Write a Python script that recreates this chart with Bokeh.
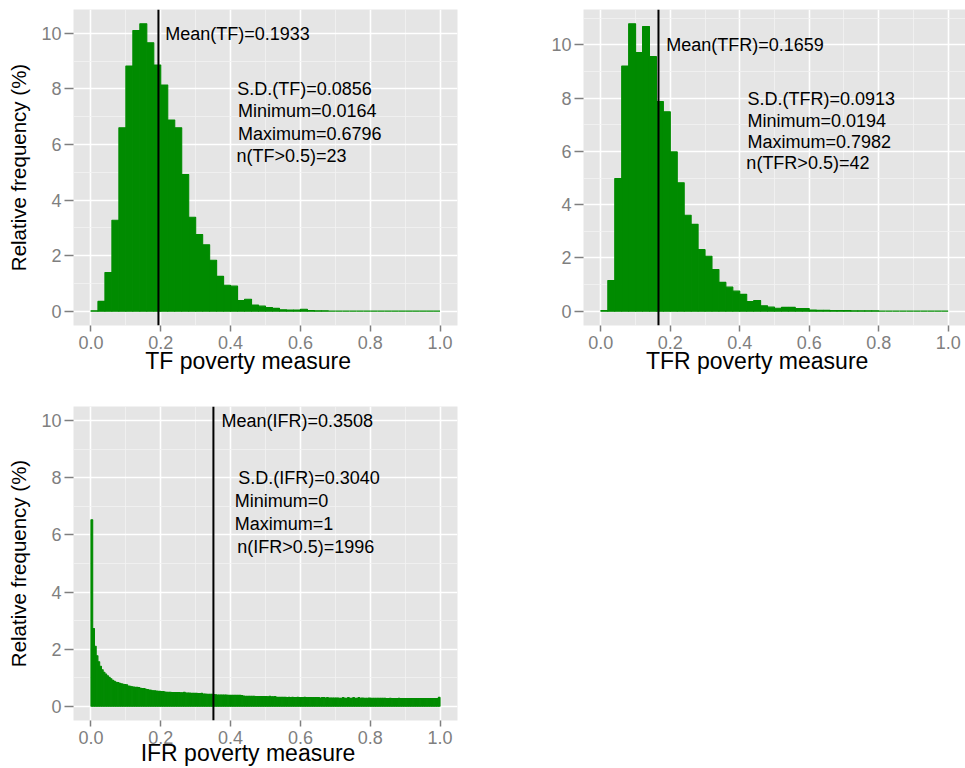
from bokeh.plotting import figure
from bokeh.models import (Range1d, FixedTicker, Span, NumeralTickFormatter,
                          ColumnDataSource, LinearAxis)
from bokeh.layouts import column, row
from bokeh.core.properties import value
from bokeh.embed import file_html
from bokeh.resources import INLINE
import numpy as np

# ---------------------------------------------------------------- data
# Relative frequency (%) per bin; TF and TFR use 50 bins of width 0.02 on [0, 1]
tf_pct = [
    0.01, 0.35, 1.39, 3.27, 6.60, 8.82, 10.10, 10.34, 9.66, 8.86,
    8.14, 6.88, 6.60, 4.92, 3.38, 2.76, 2.39, 1.83, 1.25, 0.93,
    0.90, 0.38, 0.43, 0.22, 0.18, 0.13, 0.10, 0.05, 0.04, 0.04,
    0.07, 0.02, 0.01, 0.01, 0.00, 0.00, 0.00, 0.00, 0.00, 0.00,
    0.00, 0.00, 0.00, 0.00, 0.00, 0.00, 0.00, 0.00, 0.00, 0.00,
]
tfr_pct = [
    0.02, 1.15, 4.98, 9.21, 10.79, 9.71, 10.69, 9.56, 7.87, 7.49,
    5.98, 4.82, 3.60, 3.26, 2.31, 2.06, 1.56, 1.08, 0.90, 0.75,
    0.63, 0.36, 0.40, 0.20, 0.15, 0.11, 0.14, 0.14, 0.10, 0.10,
    0.04, 0.03, 0.03, 0.02, 0.02, 0.02, 0.01, 0.01, 0.01, 0.01,
    0.00, 0.00, 0.00, 0.00, 0.00, 0.00, 0.00, 0.00, 0.00, 0.00,
]
# IFR uses 200 bins of width 0.005 on [0, 1]
ifr_pct = [
    6.53, 2.72, 2.10, 1.77, 1.56, 1.40, 1.28, 1.19, 1.13, 1.07,
    1.01, 0.96, 0.91, 0.87, 0.84, 0.83, 0.80, 0.79, 0.77, 0.76,
    0.75, 0.71, 0.70, 0.68, 0.67, 0.66, 0.66, 0.65, 0.63, 0.62,
    0.62, 0.59, 0.58, 0.57, 0.56, 0.54, 0.54, 0.53, 0.52, 0.52,
    0.51, 0.51, 0.50, 0.49, 0.49, 0.49, 0.48, 0.48, 0.48, 0.48,
    0.48, 0.47, 0.47, 0.49, 0.46, 0.46, 0.46, 0.45, 0.45, 0.45,
    0.45, 0.44, 0.44, 0.45, 0.43, 0.43, 0.42, 0.42, 0.42, 0.42,
    0.41, 0.40, 0.39, 0.39, 0.39, 0.39, 0.39, 0.39, 0.38, 0.38,
    0.38, 0.38, 0.38, 0.38, 0.38, 0.38, 0.37, 0.36, 0.35, 0.35,
    0.35, 0.35, 0.35, 0.35, 0.34, 0.34, 0.34, 0.34, 0.34, 0.34,
    0.34, 0.33, 0.35, 0.33, 0.33, 0.34, 0.31, 0.31, 0.31, 0.31,
    0.31, 0.31, 0.30, 0.31, 0.30, 0.31, 0.30, 0.30, 0.31, 0.30,
    0.30, 0.30, 0.31, 0.30, 0.30, 0.30, 0.30, 0.30, 0.30, 0.30,
    0.30, 0.29, 0.30, 0.30, 0.29, 0.30, 0.29, 0.29, 0.29, 0.29,
    0.29, 0.29, 0.28, 0.28, 0.30, 0.28, 0.28, 0.30, 0.28, 0.28,
    0.30, 0.28, 0.28, 0.30, 0.28, 0.29, 0.28, 0.28, 0.28, 0.29,
    0.28, 0.28, 0.28, 0.28, 0.28, 0.28, 0.28, 0.28, 0.28, 0.27,
    0.27, 0.28, 0.27, 0.27, 0.27, 0.27, 0.28, 0.27, 0.27, 0.27,
    0.27, 0.27, 0.27, 0.27, 0.27, 0.27, 0.27, 0.27, 0.27, 0.27,
    0.27, 0.27, 0.27, 0.27, 0.27, 0.27, 0.27, 0.27, 0.27, 0.31,
]

tf_mean, tfr_mean, ifr_mean = 0.1933, 0.1659, 0.3508

tf_notes = ["Mean(TF)=0.1933", "S.D.(TF)=0.0856", "Minimum=0.0164",
            "Maximum=0.6796", "n(TF>0.5)=23"]
tfr_notes = ["Mean(TFR)=0.1659", "S.D.(TFR)=0.0913", "Minimum=0.0194",
             "Maximum=0.7982", "n(TFR>0.5)=42"]
ifr_notes = ["Mean(IFR)=0.3508", "S.D.(IFR)=0.3040", "Minimum=0",
             "Maximum=1", "n(IFR>0.5)=1996"]

x_ticks = [0.0, 0.2, 0.4, 0.6, 0.8, 1.0]
x_minor = [0.1, 0.3, 0.5, 0.7, 0.9]
y_ticks = [0, 2, 4, 6, 8, 10]
y_minor = [1, 3, 5, 7, 9, 11]

# ---------------------------------------------------------------- style
FONT = "Liberation Sans"
BAR = "#008B00"
PANEL_BG = "#E5E5E5"
TICK_GREY = "#7F7F7F"
TITLE_AT = 0.45   # x position the axis title is centred on


def histogram_panel(pct, mean, notes, note_pos, xtitle, ytitle,
                    y_fixed, width, height, borders, title_standoff):
    n = len(pct)
    edges = np.linspace(0.0, 1.0, n + 1)
    if y_fixed is None:
        top = max(pct)
        y_lo, y_hi = -0.05 * top, 1.05 * top
    else:
        y_lo, y_hi = y_fixed

    bl, br, bt, bb = borders
    p = figure(width=width, height=height, output_backend="svg",
               toolbar_location=None, x_range=Range1d(-0.05, 1.05),
               y_range=Range1d(y_lo, y_hi),
               min_border_left=bl, min_border_right=br,
               min_border_top=bt, min_border_bottom=bb)
    p.background_fill_color = PANEL_BG
    p.border_fill_color = "white"
    p.outline_line_color = None

    xt = FixedTicker(ticks=x_ticks, minor_ticks=x_minor)
    yt = FixedTicker(ticks=y_ticks, minor_ticks=y_minor)
    p.xaxis.ticker = xt
    p.yaxis.ticker = yt
    p.xgrid.ticker = xt
    p.ygrid.ticker = yt
    p.xaxis.formatter = NumeralTickFormatter(format="0.0")

    for g in (p.xgrid, p.ygrid):
        g.grid_line_color = "white"
        g.grid_line_width = 1.6
        g.minor_grid_line_color = "#F2F2F2"
        g.minor_grid_line_width = 0.8

    for ax in (p.xaxis, p.yaxis):
        ax.axis_line_color = None
        ax.minor_tick_line_color = None
        ax.major_tick_line_color = TICK_GREY
        ax.major_tick_line_width = 1.5
        ax.major_tick_in = 0
        ax.major_label_text_font = FONT
        ax.major_label_text_font_size = "18px"
        ax.major_label_text_color = TICK_GREY
    p.xaxis.major_tick_out = 6
    p.xaxis.major_label_standoff = 4
    p.yaxis.major_tick_out = 9
    p.yaxis.major_label_standoff = 3

    if ytitle:
        p.yaxis.axis_label = ytitle
        p.yaxis.axis_label_text_font = FONT
        p.yaxis.axis_label_text_font_size = "20.5px"
        p.yaxis.axis_label_text_font_style = "normal"
        p.yaxis.axis_label_text_color = "black"
        p.yaxis.axis_label_standoff = 8

    # x title: a tick-free axis whose single label is the title
    title_axis = LinearAxis(ticker=FixedTicker(ticks=[TITLE_AT]),
                            major_label_overrides={TITLE_AT: xtitle})
    title_axis.axis_line_color = None
    title_axis.major_tick_line_color = None
    title_axis.minor_tick_line_color = None
    title_axis.major_tick_out = 0
    title_axis.major_label_standoff = title_standoff
    title_axis.major_label_text_font = FONT
    title_axis.major_label_text_font_size = "23px"
    title_axis.major_label_text_color = "black"
    p.add_layout(title_axis, "below")

    # histogram bars
    src = ColumnDataSource(dict(left=edges[:-1], right=edges[1:],
                                top=pct, bottom=[0.0] * n))
    p.quad(left="left", right="right", top="top", bottom="bottom",
           source=src, fill_color=BAR, line_color=BAR, line_width=1.1)

    # mean line
    p.add_layout(Span(location=mean, dimension="height",
                      line_color="black", line_width=2))

    # summary statistics
    nx, ny = zip(*note_pos)
    nsrc = ColumnDataSource(dict(x=list(nx), y=list(ny), text=notes))
    p.text(x="x", y="y", text="text", source=nsrc,
           text_font=value(FONT), text_font_size=value("18px"),
           text_align="left", text_baseline="middle", text_color="black")
    return p


p_tf = histogram_panel(
    tf_pct, tf_mean, tf_notes,
    [(0.213, 9.98), (0.419, 8.0), (0.421, 7.2), (0.421, 6.39), (0.417, 5.6)],
    "TF poverty measure", "Relative frequency (%)",
    None, 510, 390, (73, 53, 9, 65), -4)

p_tfr = histogram_panel(
    tfr_pct, tfr_mean, tfr_notes,
    [(0.188, 10.0), (0.422, 7.96), (0.422, 7.14), (0.422, 6.34), (0.419, 5.55)],
    "TFR poverty measure", None,
    None, 455, 390, (73, 0, 9, 65), -4)

p_ifr = histogram_panel(
    ifr_pct, ifr_mean, ifr_notes,
    [(0.374, 10.0), (0.422, 8.0), (0.412, 7.2), (0.412, 6.39), (0.419, 5.58)],
    "IFR poverty measure", "Relative frequency (%)",
    (-0.5, 10.5), 510, 378, (73, 53, 16, 46), -7)

layout = column(row(p_tf, p_tfr), p_ifr)
open("out.html", "w").write(file_html(layout, INLINE))
